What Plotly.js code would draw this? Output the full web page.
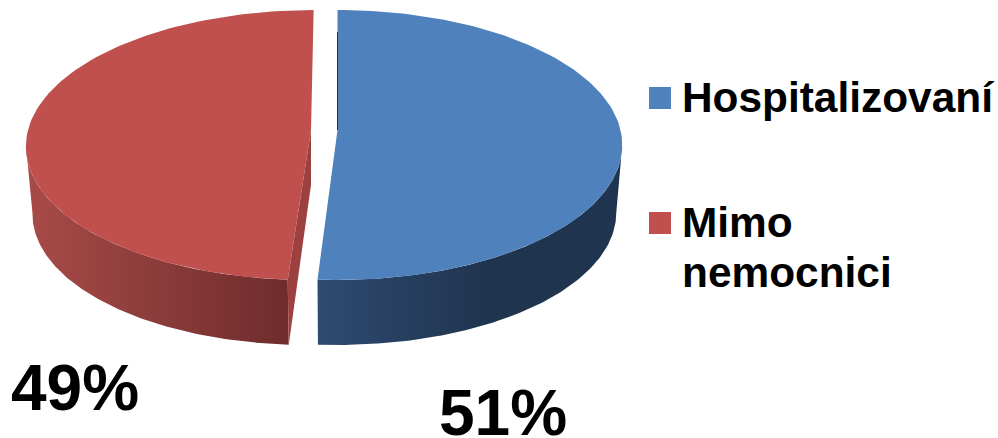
<!DOCTYPE html>
<html>
<head>
<meta charset="utf-8">
<script src="https://cdn.plot.ly/plotly-3.0.1.min.js"></script>
<style>html,body{margin:0;padding:0;background:#fff}#chart{width:998px;height:438px}</style>
</head>
<body>
<div id="chart"></div>
<script>
// Share of patients by place of care
const categories = ["Hospitalizovaní", "Mimo<br>nemocnici"];
const percents = [51, 49];
const topColors = ["#4F81BD", "#C0504D"];
const cutColors = ["#1F344F", "#9C4140"];
const wallScales = [
  [[0, "#2F4B70"], [0.55, "#1F344F"], [1, "#1F344F"]],
  [[0, "#A84B48"], [1, "#6E2C2C"]]
];

// Projected disc: view centre, radii, perspective and pull-out of each slice
const view = {cx: 337.5, cy: 130, b: 283, a: 133.3, k: 1 / 9};
const pullOut = [0, 26.5 / 283];
const base = {shrink: 0.979, stretch: 0.98, drop: 68, apexDrop: 55};
const legendPos = [{x: 660, y: 98, tx: 680, ty: 97}, {x: 660, y: 223, tx: 680, ty: 222}];
const pctPos = [{x: 503, y: 413}, {x: 75, y: 388}];

// World point (u, v) on the disc to page coordinates; lower=true gives the base plane
function project(u, v, e, lower) {
  const d = 1 - view.k * v;
  let x = view.cx + view.b * (u + e) / d;
  let y = view.cy + view.a * v / d;
  if (lower) {
    x = view.cx + (x - view.cx) * base.shrink;
    y = view.cy + (y - view.cy) * base.stretch + base.drop;
  }
  return [x, y];
}
function rim(deg, e, lower) {
  const t = deg * Math.PI / 180;
  return project(Math.sin(t), -Math.cos(t), e, lower);
}
function arc(from, to, e, lower) {
  const pts = [], n = 120;
  for (let i = 0; i <= n; i++) pts.push(rim(from + (to - from) * i / n, e, lower));
  return pts;
}
function poly(pts, extra) {
  return Object.assign({
    type: "scatter", mode: "lines", hoverinfo: "skip", showlegend: false,
    x: pts.map(p => p[0]), y: pts.map(p => p[1]),
    fill: "toself", line: {width: 0}
  }, extra);
}

// Slice boundaries run clockwise from the top of the disc
const total = percents.reduce((s, v) => s + v, 0);
const starts = [], ends = [];
percents.forEach((v, i) => {
  starts.push(i ? ends[i - 1] : 0);
  ends.push(starts[i] + v / total * 360);
});
const sideAngle = Math.acos(-view.k) * 180 / Math.PI; // where the rim is widest

const traces = [];
// Left slice is drawn first so that the right one sits above it
[1, 0].forEach(i => {
  const e = i === 0 ? pullOut[0] : -pullOut[1];
  const from = i === 0 ? sideAngle : starts[1];
  const to = i === 0 ? ends[0] : 360 - sideAngle;
  const wall = arc(from, to, e, false).concat(arc(from, to, e, true).reverse());
  traces.push(poly(wall, {
    fillcolor: cutColors[i],
    fillgradient: {type: "horizontal", colorscale: wallScales[i]}
  }));
  if (i === 1) {
    const apex = project(0, 0, e, false);
    const apexLow = [apex[0], apex[1] + base.apexDrop];
    const edge = rim(starts[1], e, false), edgeLow = rim(starts[1], e, true);
    traces.push(poly([apex, edge, edgeLow, apexLow], {fillcolor: cutColors[1]}));
  }
  const face = [project(0, 0, e, false)].concat(arc(starts[i], ends[i], e, false));
  traces.push(poly(face, {fillcolor: topColors[i]}));
  if (i === 0) {
    // narrow dark sliver along the back cut of the right slice
    const apex = project(0, 0, e, false), back = project(0, -0.8, e, false);
    traces.push({
      type: "scatter", mode: "lines", hoverinfo: "skip", showlegend: false,
      x: [apex[0], back[0]], y: [apex[1], back[1]],
      line: {color: cutColors[0], width: 1}
    });
  }
});

// Legend swatches
traces.push({
  type: "scatter", mode: "markers", hoverinfo: "skip", showlegend: false,
  x: legendPos.map(p => p.x), y: legendPos.map(p => p.y),
  marker: {symbol: "square", size: 22, color: topColors, line: {width: 0}}
});

const FONT = "Liberation Sans, Arial, sans-serif";
const annotations = [];
categories.forEach((name, i) => {
  name.split("<br>").forEach((line, j) => {
    annotations.push({
      text: "<b>" + line + "</b>", x: legendPos[i].tx, y: legendPos[i].ty + j * 50,
      xref: "x", yref: "y", xanchor: "left", yanchor: "middle", showarrow: false,
      font: {family: FONT, size: 42.4, color: "#000"}
    });
  });
  annotations.push({
    text: "<b>" + percents[i] + "%</b>", x: pctPos[i].x, y: pctPos[i].y,
    xref: "x", yref: "y", xanchor: "center", yanchor: "middle", showarrow: false,
    font: {family: FONT, size: 64, color: "#000"}
  });
});

const hidden = {visible: false, fixedrange: true};
Plotly.newPlot("chart", traces, {
  width: 998, height: 438,
  margin: {l: 0, r: 0, t: 0, b: 0},
  paper_bgcolor: "#fff", plot_bgcolor: "#fff",
  showlegend: false,
  xaxis: Object.assign({range: [0, 998]}, hidden),
  yaxis: Object.assign({range: [438, 0]}, hidden),
  annotations
}, {staticPlot: true});
</script>
</body>
</html>
